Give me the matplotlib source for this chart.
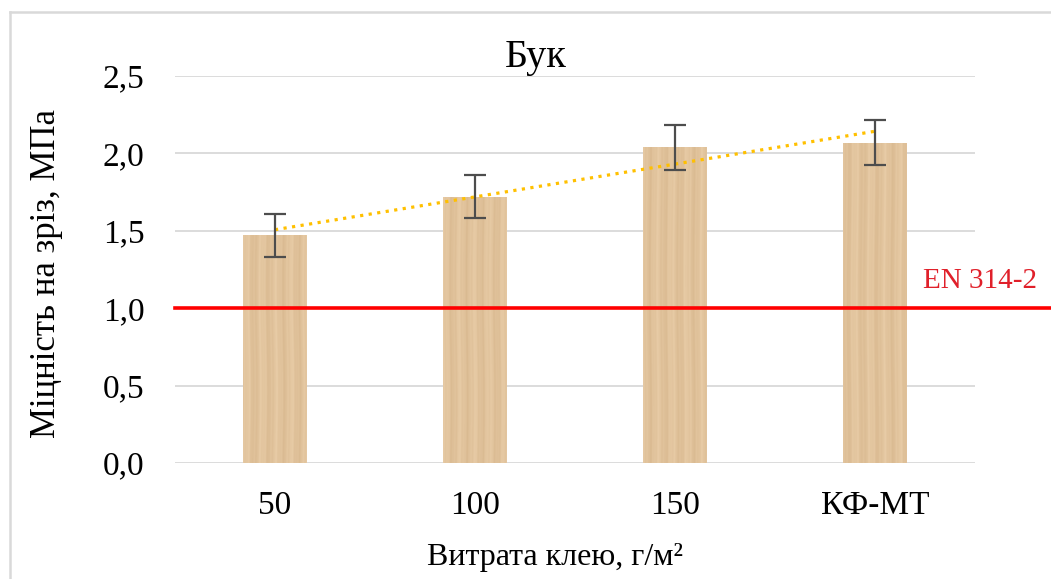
import numpy as np
import matplotlib
matplotlib.use("Agg")
import matplotlib.pyplot as plt
from matplotlib.lines import Line2D
from matplotlib.ticker import FuncFormatter

# Shear strength of beech plywood vs. glue spread
categories = ["50", "100", "150", "КФ-МТ"]
strength = [1.47, 1.72, 2.04, 2.07]
errors = [0.14, 0.14, 0.145, 0.145]
yticks = [0.0, 0.5, 1.0, 1.5, 2.0, 2.5]
standard_value = 1.0
standard_label = "EN 314-2"
title = "Бук"
xlabel = "Витрата клею, г/м²"
ylabel = "Міцність на зріз, МПа"

plt.rcParams['font.family'] = ['Liberation Serif', 'DejaVu Serif']

W, H = 1051, 579
fig = plt.figure(figsize=(W / 100, H / 100), dpi=100)
ax = fig.add_axes([175 / W, 1 - 463 / H, 800 / W, 387 / H])

x = np.arange(len(categories))
bars = ax.bar(x, strength, width=0.32, color='#DFBF98', zorder=2)


def wood_texture(phase, rows=300, cols=80):
    c = np.linspace(0, 1, cols)[None, :]
    r = np.linspace(0, 1, rows)[:, None]
    cc = c + 0.010 * np.sin(2 * np.pi * (1.1 * r + phase))
    grain = (0.50 * np.sin(2 * np.pi * 4.3 * cc + phase)
             + 0.30 * np.sin(2 * np.pi * 11.7 * cc + 1.3 + phase)
             + 0.20 * np.sin(2 * np.pi * 23.1 * cc + 0.7))
    base = np.array([225, 195, 156]) / 255.0
    amp = np.array([8, 10, 12]) / 255.0
    img = base[None, None, :] + grain[:, :, None] * amp[None, None, :]
    return np.clip(img, 0, 1)


for i, b in enumerate(bars):
    x0, w, h = b.get_x(), b.get_width(), b.get_height()
    im = ax.imshow(wood_texture(0.9 * i), extent=(x0, x0 + w, 0, h),
                   aspect='auto', zorder=2.5, interpolation='bilinear')
    im.set_clip_path(b)

ax.errorbar(x, strength, yerr=errors, fmt='none', ecolor='#4D4D4D',
            elinewidth=1.6, capsize=8, capthick=1.6, zorder=4)

coef = np.polyfit(x, strength, 1)
ax.plot(x, np.polyval(coef, x), linestyle=(0, (1, 1.7)), color='#FFC000',
        lw=2.3, zorder=3)

ax.axhline(standard_value, xmin=0, xmax=(W - 175) / 800, clip_on=False,
           color='#FF0000', lw=2.6, zorder=5)
ax.text(980 / W, 1 - 281 / H, standard_label, transform=fig.transFigure,
        ha='center', va='center', fontsize=21, color='#E0202A')

ax.set_xlim(-0.5, len(categories) - 0.5)
ax.set_ylim(0, 2.5)
ax.set_yticks(yticks)
ax.yaxis.set_major_formatter(FuncFormatter(lambda v, p: f"{v:.1f}".replace('.', ',')))
ax.set_xticks(x)
ax.set_xticklabels(categories)
ax.tick_params(axis='both', length=0, labelsize=24, colors='#000000')
ax.tick_params(axis='y', pad=22)
ax.tick_params(axis='x', pad=20)
ax.grid(axis='y', color='#D9D9D9', lw=1.3, zorder=0)
ax.set_axisbelow(True)
for s in ax.spines.values():
    s.set_visible(False)

fig.text(536 / W, 1 - 58 / H, title, ha='center', va='center', fontsize=29)
fig.text(555 / W, 1 - 557 / H, xlabel, ha='center', va='center', fontsize=23)
fig.text(47 / W, 1 - 274 / H, ylabel, ha='center', va='center', fontsize=25,
         rotation=90)

# chart frame
fig.add_artist(Line2D([10 / W, 1], [1 - 12 / H, 1 - 12 / H],
                      transform=fig.transFigure, color='#D9D9D9', lw=1.8))
fig.add_artist(Line2D([10 / W, 10 / W], [0, 1 - 12 / H],
                      transform=fig.transFigure, color='#D9D9D9', lw=1.8))

fig.savefig("out.png", dpi=100)
